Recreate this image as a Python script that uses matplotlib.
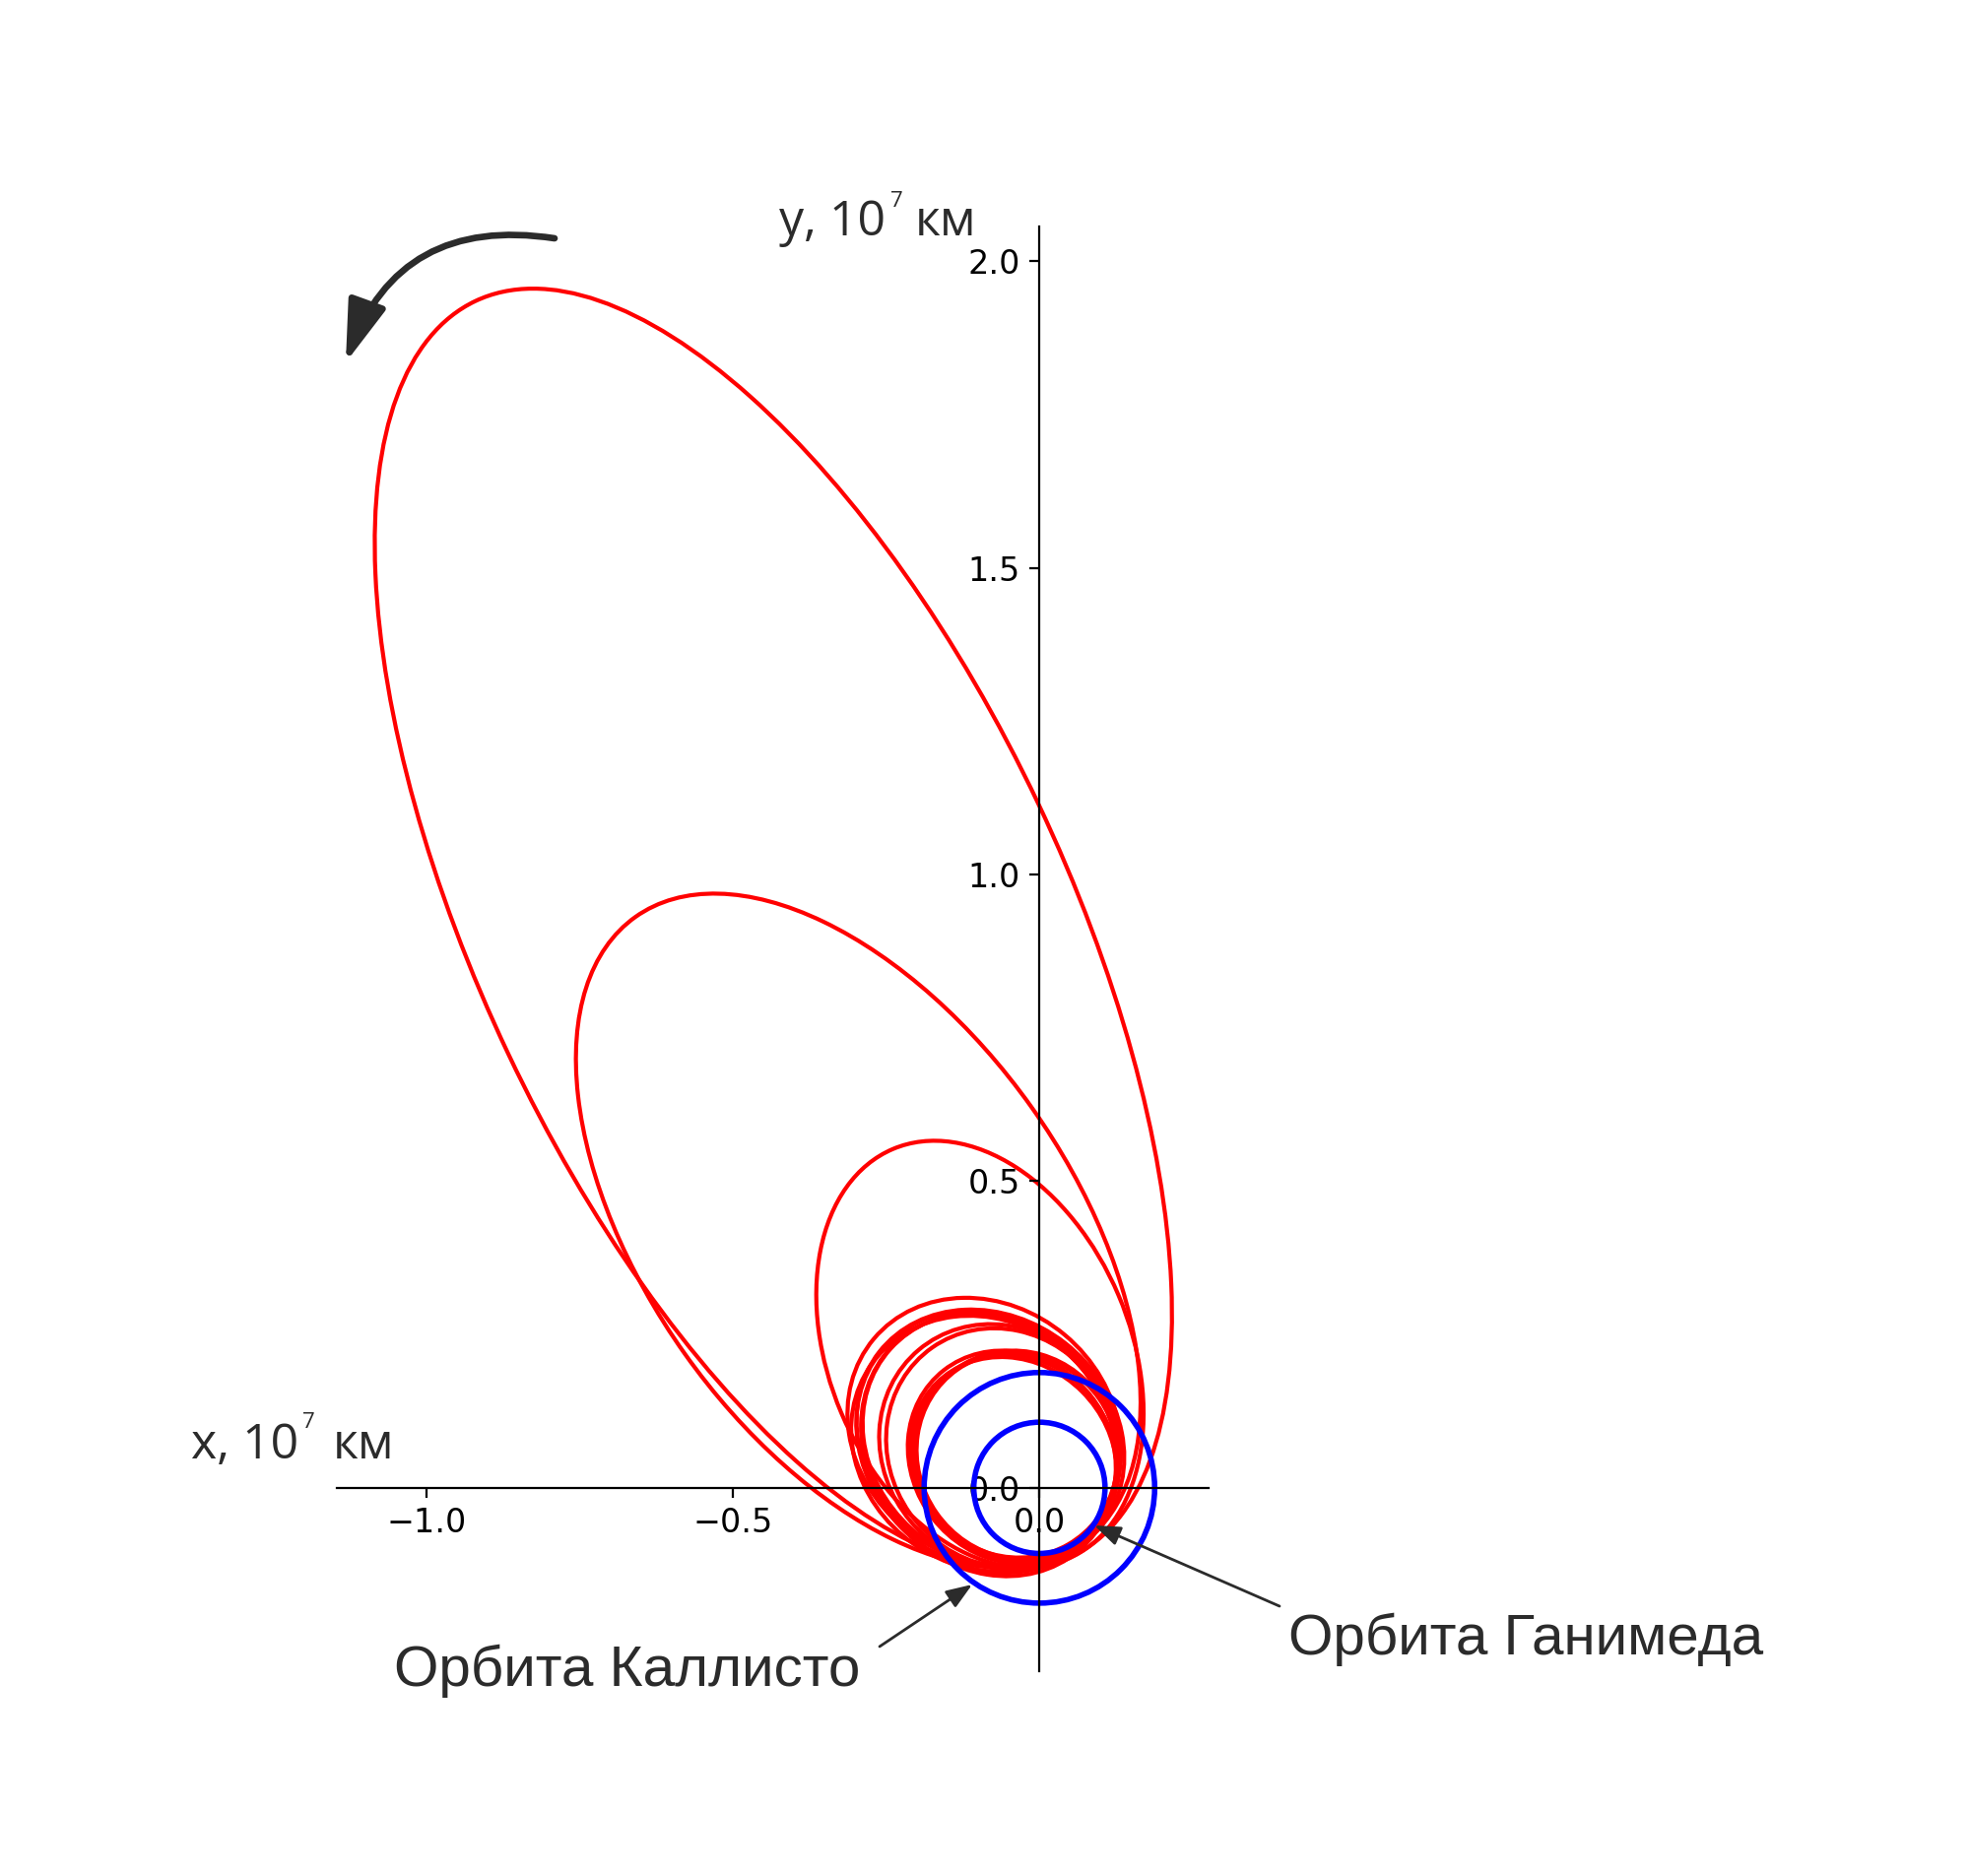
import numpy as np
import matplotlib
matplotlib.use("Agg")
import matplotlib.pyplot as plt
from matplotlib.patches import Ellipse, Circle, FancyArrowPatch

# ── Data (10^7 km) ────────────────────────────────────────────────────
moon_labels = ["Орбита Ганимеда", "Орбита Каллисто"]
moon_radius = [0.107, 0.188]

# spacecraft loops: centre, semi-axes, tilt of major axis (deg)
loop_cx   = [-0.434, -0.2955, -0.097, -0.090, -0.085, -0.082, -0.090, -0.078,
             -0.065, -0.060, -0.040, -0.035, -0.042, -0.038, -0.080, -0.045]
loop_cy   = [0.9115, 0.4195, 0.218, 0.092, 0.075, 0.070, 0.072, 0.078,
             0.068, 0.065, 0.048, 0.052, 0.045, 0.055, 0.080, 0.050]
loop_a    = [1.1334, 0.6275, 0.3634, 0.235, 0.228, 0.226, 0.225, 0.222,
             0.205, 0.200, 0.175, 0.172, 0.178, 0.170, 0.230, 0.180]
loop_b    = [0.478, 0.347, 0.2456, 0.205, 0.198, 0.196, 0.200, 0.195,
             0.190, 0.185, 0.160, 0.162, 0.158, 0.165, 0.198, 0.163]
loop_tilt = [115.4, 125.4, 113.0, 140, 135, 130, 145, 138,
             130, 125, 130, 125, 135, 120, 142, 128]

x_ticks = [-1.0, -0.5, 0.0]
y_ticks = [0.0, 0.5, 1.0, 1.5, 2.0]

# ── Figure ────────────────────────────────────────────────────────────
W, H = 2000, 1905
DPI = 200
TXT = "#2b2b2b"

fig = plt.figure(figsize=(W / DPI, H / DPI), dpi=DPI)
fx = lambda px: px / W
fy = lambda py: 1 - py / H

ax = fig.add_axes([fx(342), fy(1697), (1227 - 342) / W, (1697 - 230) / H])
ax.set_xlim(-1.146, 0.276)
ax.set_ylim(-0.299, 2.057)

for cx, cy, a, b, t in zip(loop_cx, loop_cy, loop_a, loop_b, loop_tilt):
    ax.add_patch(Ellipse((cx, cy), 2 * a, 2 * b, angle=t,
                         fill=False, edgecolor="#ff0000", lw=1.5, zorder=1))

for r in moon_radius:
    ax.add_patch(Circle((0, 0), r, fill=False, edgecolor="#0000ff", lw=2.0, zorder=2))

# axes through origin
for s in ["top", "right"]:
    ax.spines[s].set_visible(False)
ax.spines["left"].set_position(("data", 0))
ax.spines["bottom"].set_position(("data", 0))
ax.set_xticks(x_ticks)
ax.set_yticks(y_ticks)
ax.tick_params(labelsize=12, length=3.5)

# ── Labels ────────────────────────────────────────────────────────────
lab = dict(family="Open Sans", fontsize=18, color=TXT, va="baseline")
sup = dict(family="Open Sans", fontsize=8, color=TXT, va="top")
fig.text(fx(791), fy(239), "y, 10", **lab)
fig.text(fx(904), fy(194), "7", **sup)
fig.text(fx(929), fy(239), "км", **lab)

fig.text(fx(194), fy(1481), "x, 10", **lab)
fig.text(fx(307), fy(1434), "7", **sup)
fig.text(fx(338), fy(1481), "км", **lab)

orb = dict(family="Liberation Sans", fontsize=21, color=TXT, va="baseline")
fig.text(fx(1308), fy(1680), moon_labels[0], **orb)
fig.text(fx(400), fy(1712), moon_labels[1], **orb)

# pointer arrows
for (x0, y0), (x1, y1) in [((1299, 1631), (1111, 1549)), ((893, 1672), (987, 1609))]:
    fig.patches.append(FancyArrowPatch(
        (fx(x0), fy(y0)), (fx(x1), fy(y1)), transform=fig.transFigure,
        arrowstyle="-|>,head_length=0.8,head_width=0.3", mutation_scale=10,
        lw=1.0, color=TXT, shrinkA=0, shrinkB=0))

# direction of motion
fig.patches.append(FancyArrowPatch(
    (fx(563), fy(242)), (fx(351), fy(368)), transform=fig.transFigure,
    connectionstyle="arc3,rad=0.41",
    arrowstyle="-|>,head_length=0.95,head_width=0.3", mutation_scale=20,
    lw=2.4, color=TXT, capstyle="round", shrinkA=0, shrinkB=0))

fig.savefig("out.png", dpi=DPI, facecolor="white")
